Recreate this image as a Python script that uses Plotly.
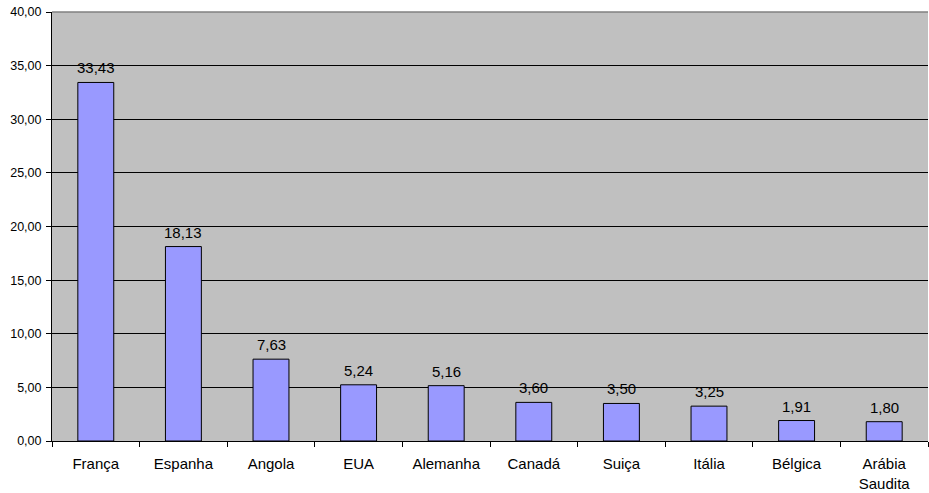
import plotly.graph_objects as go

countries = ["França", "Espanha", "Angola", "EUA", "Alemanha", "Canadá",
             "Suiça", "Itália", "Bélgica", "Arábia<br>Saudita"]
values = [33.43, 18.13, 7.63, 5.24, 5.16, 3.60, 3.50, 3.25, 1.91, 1.80]
y_ticks = [0, 5, 10, 15, 20, 25, 30, 35, 40]

labels = [f"{v:.2f}".replace(".", ",") for v in values]

fig = go.Figure(go.Bar(
    x=countries, y=values,
    marker=dict(color="#9999FF", line=dict(color="black", width=1)),
    width=0.41,
))

# value labels above each bar
for c, v, t in zip(countries, values, labels):
    fig.add_annotation(x=c, y=v, text=t, showarrow=False, yanchor="bottom",
                       yshift=4, font=dict(size=15, color="black"))

fig.update_layout(
    width=929, height=493,
    margin=dict(l=52, r=1, t=12, b=52),
    paper_bgcolor="white", plot_bgcolor="#C0C0C0",
    font=dict(family="Liberation Sans, Arial, sans-serif", color="black", size=12),
    separators=",.",
    showlegend=False,
    xaxis=dict(
        showgrid=False, ticks="outside", tickson="boundaries", ticklen=5,
        tickcolor="black", showline=True, linecolor="black", linewidth=1,
        tickfont=dict(size=15), ticklabelstandoff=9, fixedrange=True,
    ),
    yaxis=dict(
        range=[0, 40], tickvals=y_ticks, tickformat=".2f",
        showgrid=True, gridcolor="black", gridwidth=1,
        ticks="outside", ticklen=5, tickcolor="black",
        showline=True, linecolor="black", linewidth=1,
        zeroline=False, tickfont=dict(size=12.5), ticklabelstandoff=2,
    ),
    shapes=[dict(type="line", xref="paper", yref="paper", x0=0, x1=1, y0=1, y1=1,
                 line=dict(color="#808080", width=1.5))],
)

fig.write_html("out.html")
